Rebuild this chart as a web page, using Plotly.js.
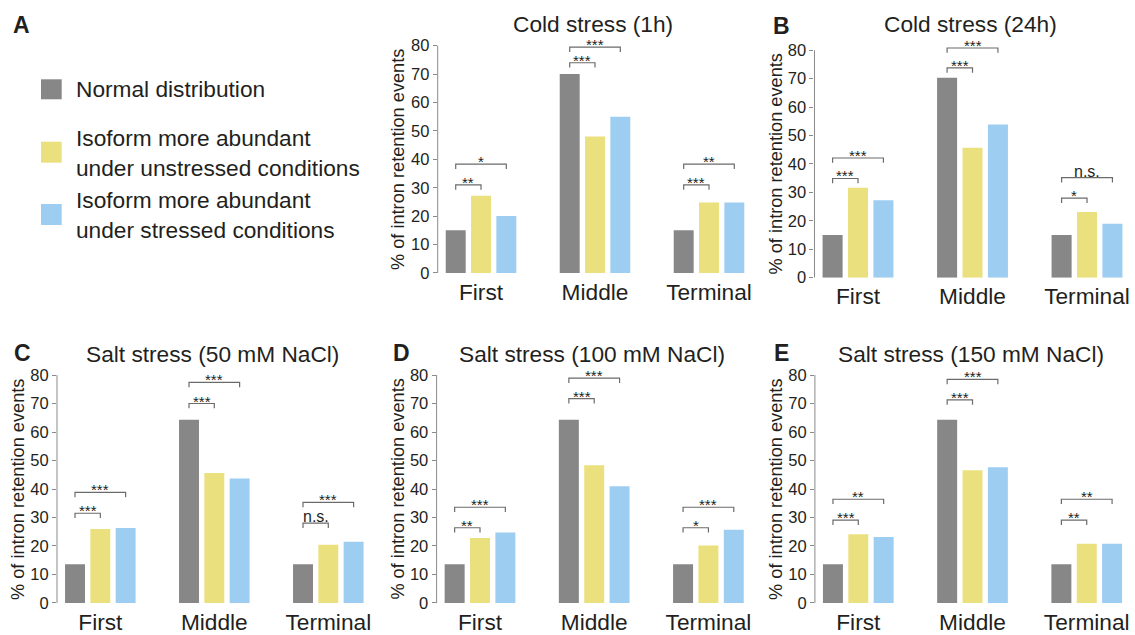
<!DOCTYPE html>
<html><head><meta charset="utf-8">
<script src="https://cdn.plot.ly/plotly-3.0.1.min.js"></script>
<style>html,body{margin:0;padding:0;background:#fff}#chart{width:1135px;height:635px}</style>
</head><body><div id="chart"></div>
<script>
// ---------- data ----------
const categories = ['First', 'Middle', 'Terminal'];
const seriesNames = ['Normal distribution',
  'Isoform more abundant<br>under unstressed conditions',
  'Isoform more abundant<br>under stressed conditions'];
const panelTitles = ['Cold stress (1h)', 'Cold stress (24h)', 'Salt stress (50 mM NaCl)',
  'Salt stress (100 mM NaCl)', 'Salt stress (150 mM NaCl)'];
const panelLetters = ['A', 'B', 'C', 'D', 'E'];
const yTickVals = [0, 10, 20, 30, 40, 50, 60, 70, 80];
const yTickText = ['0', '10', '20', '30', '40', '50', '60', '70', '80'];
const yTitle = '% of intron retention events';

// % of intron retention events: [First, Middle, Terminal]
const cold1h_normal     = [15.0, 70.0, 15.0];
const cold1h_unstressed = [27.2, 48.0, 24.8];
const cold1h_stressed   = [20.1, 55.0, 24.8];

const cold24h_normal     = [15.0, 70.3, 15.0];
const cold24h_unstressed = [31.6, 45.7, 23.1];
const cold24h_stressed   = [27.2, 53.9, 19.0];

const salt50_normal     = [13.6, 64.3, 13.6];
const salt50_unstressed = [26.0, 45.6, 20.4];
const salt50_stressed   = [26.3, 43.7, 21.5];

const salt100_normal     = [13.6, 64.3, 13.6];
const salt100_unstressed = [22.8, 48.3, 20.2];
const salt100_stressed   = [24.7, 41.0, 25.7];

const salt150_normal     = [13.6, 64.3, 13.6];
const salt150_unstressed = [24.1, 46.6, 20.8];
const salt150_stressed   = [23.2, 47.6, 20.8];

// significance brackets: [category index, compared series (1 = unstressed, 2 = stressed), bracket level (%), label]
const cold1h_sig = [[0, 1, 31.0, '**'], [0, 2, 38.3, '*'], [1, 1, 74.0, '***'], [1, 2, 79.5, '***'], [2, 1, 31.0, '***'], [2, 2, 38.3, '**']];
const cold24h_sig = [[0, 1, 34.9, '***'], [0, 2, 42.1, '***'], [1, 1, 73.8, '***'], [1, 2, 80.8, '***'], [2, 1, 28.0, '*'], [2, 2, 35.2, 'n.s.']];
const salt50_sig = [[0, 1, 31.5, '***'], [0, 2, 38.8, '***'], [1, 1, 70.0, '***'], [1, 2, 77.4, '***'], [2, 1, 28.0, 'n.s.'], [2, 2, 35.3, '***']];
const salt100_sig = [[0, 1, 26.4, '**'], [0, 2, 33.6, '***'], [1, 1, 71.7, '***'], [1, 2, 78.9, '***'], [2, 1, 26.4, '*'], [2, 2, 33.6, '***']];
const salt150_sig = [[0, 1, 29.1, '***'], [0, 2, 36.4, '**'], [1, 1, 71.3, '***'], [1, 2, 78.5, '***'], [2, 1, 29.1, '**'], [2, 2, 36.4, '**']];

// ---------- styling ----------
const FONT = 'Liberation Sans, Arial, Helvetica, sans-serif';
const TXT = '#231f20';
const colors = ['#878787', '#ebe07e', '#9ecdf2'];
const pitch = 0.222, barW = 0.175, tickDrop = 1.7;

const panels = [
  {vals: [cold1h_normal, cold1h_unstressed, cold1h_stressed], sig: cold1h_sig,
   xd: [0.38564, 0.65982], yd: [0.5701, 0.9370]},
  {vals: [cold24h_normal, cold24h_unstressed, cold24h_stressed], sig: cold24h_sig,
   xd: [0.71762, 0.99304], yd: [0.5627, 0.9298]},
  {vals: [salt50_normal, salt50_unstressed, salt50_stressed], sig: salt50_sig,
   xd: [0.05022, 0.32441], yd: [0.0504, 0.4184]},
  {vals: [salt100_normal, salt100_unstressed, salt100_stressed], sig: salt100_sig,
   xd: [0.38467, 0.65938], yd: [0.0504, 0.4184]},
  {vals: [salt150_normal, salt150_unstressed, salt150_stressed], sig: salt150_sig,
   xd: [0.71797, 0.99269], yd: [0.0504, 0.4184]}
];
const letterPos = [[21, 25], [781, 26], [22, 353], [401, 353], [781, 353]];
const titleY = [24, 24, 354, 354, 354];

const traces = [];
const shapes = [];
const annotations = [];
const layout = {
  width: 1135, height: 635, margin: {l: 0, r: 0, t: 0, b: 0},
  paper_bgcolor: '#fff', plot_bgcolor: 'rgba(0,0,0,0)',
  barmode: 'overlay', showlegend: false,
  font: {family: FONT, color: TXT}
};
const px = v => v / 1135, py = v => 1 - v / 635;

panels.forEach((p, i) => {
  const n = i === 0 ? '' : String(i + 1);
  const xa = 'x' + n, ya = 'y' + n;
  p.vals.forEach((v, k) => {
    traces.push({
      type: 'bar', x: [0, 1, 2], y: v, name: seriesNames[k],
      xaxis: xa, yaxis: ya, width: barW, offset: (k - 1) * pitch - barW / 2,
      marker: {color: colors[k], line: {width: 0}}, hoverinfo: 'y'
    });
  });
  layout['xaxis' + n] = {
    domain: p.xd, anchor: ya, range: [-0.38, 2.35], fixedrange: true,
    showgrid: false, zeroline: false, showline: false, ticks: '',
    tickmode: 'array', tickvals: [0, 1, 2], ticktext: categories,
    tickfont: {size: 22.7, family: FONT, color: TXT}, ticklabelstandoff: 3
  };
  layout['yaxis' + n] = {
    domain: p.yd, anchor: xa, range: [0, 82], fixedrange: true,
    showgrid: false, zeroline: false, showline: false,
    ticks: 'outside', ticklen: 4, tickwidth: 1, tickcolor: '#8a8a8a',
    tickmode: 'array', tickvals: yTickVals, ticktext: yTickText,
    tickfont: {size: 16.5, family: FONT, color: TXT}
  };
  // y-axis line from 0 to 80
  shapes.push({type: 'line', xref: xa + ' domain', yref: ya, x0: 0, x1: 0, y0: 0, y1: 80,
    line: {color: '#8a8a8a', width: 1}});
  // y-axis title
  annotations.push({xref: xa + ' domain', yref: ya, x: 0, y: 40, xshift: -39,
    text: yTitle, textangle: -90, showarrow: false, xanchor: 'center', yanchor: 'middle',
    font: {size: 18.2, family: FONT, color: TXT}});
  // panel title
  annotations.push({xref: xa + ' domain', yref: 'paper', x: 0.5, y: py(titleY[i]),
    text: panelTitles[i], showarrow: false, xanchor: 'center', yanchor: 'middle',
    font: {size: 22.7, family: FONT, color: TXT}});
  // panel letter
  annotations.push({xref: 'paper', yref: 'paper', x: px(letterPos[i][0]), y: py(letterPos[i][1]),
    text: '<b>' + panelLetters[i] + '</b>', showarrow: false, xanchor: 'center', yanchor: 'middle',
    font: {size: 23, family: FONT, color: TXT}});
  // significance brackets
  p.sig.forEach(([g, t, L, lab]) => {
    const x0 = g - pitch, x1 = g + (t - 1) * pitch;
    shapes.push({type: 'path', xref: xa, yref: ya,
      path: `M ${x0},${L - tickDrop} L ${x0},${L} L ${x1},${L} L ${x1},${L - tickDrop}`,
      line: {color: '#6b6b6b', width: 1.2}});
    const ns = lab === 'n.s.';
    annotations.push({xref: xa, yref: ya, x: (x0 + x1) / 2, y: L, text: lab,
      showarrow: false, xanchor: 'center', yanchor: 'bottom', yshift: ns ? -4 : -8,
      font: {size: ns ? 16 : 15, family: FONT, color: TXT}});
  });
});

// legend (manual, squares + labels)
const legendBoxes = [[79.3, 99.3], [141.7, 162.7], [204, 225]];
const legendTextY = [89.3, 153, 215.5];
seriesNames.forEach((nm, k) => {
  shapes.push({type: 'rect', xref: 'paper', yref: 'paper', x0: px(41), x1: px(61.7),
    y0: py(legendBoxes[k][1]), y1: py(legendBoxes[k][0]), fillcolor: colors[k], line: {width: 0}});
  annotations.push({xref: 'paper', yref: 'paper', x: px(74), y: py(legendTextY[k]), text: nm,
    showarrow: false, xanchor: 'left', yanchor: 'middle', align: 'left',
    font: {size: 22.7, family: FONT, color: TXT}});
});

layout.shapes = shapes;
layout.annotations = annotations;
Plotly.newPlot('chart', traces, layout, {displayModeBar: false, staticPlot: true});
</script>
</body></html>
